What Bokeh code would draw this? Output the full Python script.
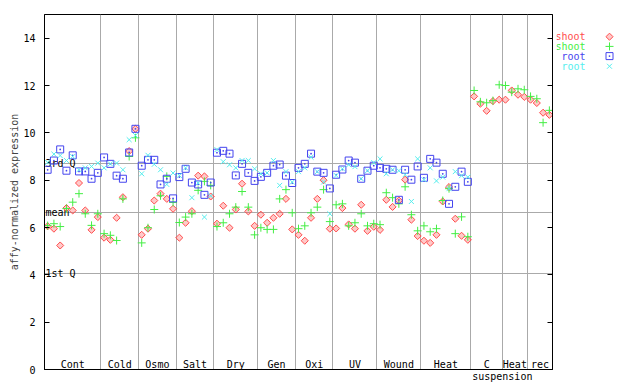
import math
from bokeh.plotting import figure
from bokeh.models import LinearAxis, FixedTicker, Range1d
from bokeh.layouts import row
from bokeh.core.properties import value
from bokeh.embed import file_html
from bokeh.resources import INLINE

# ---------------- data ----------------
group_labels = ["Cont", "Cold", "Osmo", "Salt", "Dry", "Gen", "Oxi", "UV",
                "Wound", "Heat", "C", "Heat", "rec"]
group_sizes = [9, 6, 6, 6, 7, 6, 6, 7, 7, 8, 5, 4, 4]
extra_label = "suspension"

shoot_rep1 = [6.05, 5.95, 5.24, 6.82, 6.72, 7.88, 6.72, 5.90, 6.44,
              5.57, 5.48, 6.41, 7.28, 9.23, 10.17,
              5.69, 5.95, 7.14, 7.43, 7.21, 6.79,
              5.57, 6.20, 6.69, 8.19, 8.16, 7.31,
              6.16, 6.92, 5.99, 6.76, 7.85, 6.68, 6.07,
              6.54, 6.20, 6.41, 6.58, 7.21, 5.92,
              5.69, 5.44, 6.41, 7.21, 8.00, 5.95,
              5.96, 6.82, 6.13, 5.95, 6.96, 5.86, 6.03,
              5.90, 7.17, 6.87, 7.14, 8.02, 6.33, 5.64,
              5.44, 5.35, 5.69, 7.10, 7.71, 6.37, 5.65, 5.48,
              11.54, 11.23, 10.93, 11.34, 11.40,
              11.40, 11.79, 11.61, 11.52,
              11.40, 11.26, 10.85, 10.76]
shoot_rep2 = [6.08, 6.16, 6.04, 6.80, 7.07, 7.43, 6.58, 6.09, 6.58,
              5.74, 5.67, 5.45, 7.21, 9.00, 9.79,
              5.35, 5.99, 6.76, 7.34, 8.16, 7.06,
              6.21, 6.44, 6.58, 7.57, 7.95, 7.78,
              6.04, 6.20, 6.58, 6.86, 7.52, 6.86, 5.69,
              5.99, 5.92, 5.92, 7.21, 7.60, 6.62,
              5.95, 6.07, 6.62, 6.86, 7.60, 6.25,
              6.96, 7.00, 6.07, 6.20, 6.58, 6.07, 6.16,
              6.12, 7.47, 7.26, 7.00, 7.72, 6.54, 5.86,
              6.07, 5.82, 5.95, 7.14, 7.64, 5.74, 6.45, 5.61,
              11.79, 11.31, 11.27, 11.36, 12.03,
              12.00, 11.72, 11.86, 11.82,
              11.54, 11.44, 10.43, 10.95]
root_rep1 = [8.44, 8.83, 9.30, 8.40, 9.05, 8.37, 8.37, 8.06, 8.31,
             8.96, 8.69, 8.19, 8.06, 9.17, 10.17,
             8.61, 8.86, 8.86, 7.82, 8.06, 7.23,
             8.13, 8.48, 7.90, 7.82, 7.38, 7.90,
             9.16, 9.24, 9.12, 8.20, 8.69, 8.31, 7.97,
             8.14, 8.31, 8.61, 8.66, 8.19, 7.88,
             8.52, 8.69, 9.12, 8.36, 8.31, 7.65,
             8.23, 8.45, 8.83, 8.74, 8.06, 8.40, 8.61,
             8.52, 8.48, 8.44, 7.17, 8.44, 8.02, 8.58,
             8.10, 8.90, 8.74, 8.27, 7.00, 7.72, 8.36, 7.93]
root_rep2 = [8.75, 9.10, 9.04, 8.83, 9.00, 8.44, 8.52, 8.58, 8.72,
             8.52, 8.69, 8.72, 8.44, 9.71, 9.89,
             8.27, 9.05, 8.67, 8.44, 7.82, 8.30,
             8.20, 8.52, 7.26, 7.88, 6.44, 7.34,
             9.29, 8.78, 8.65, 8.52, 8.83, 8.83, 8.48,
             8.27, 8.31, 8.83, 7.78, 8.36, 7.92,
             8.36, 8.52, 8.97, 8.36, 7.92, 6.58,
             8.20, 8.48, 8.65, 8.57, 8.06, 8.40, 8.74,
             8.90, 8.27, 8.44, 8.40, 8.23, 7.10, 8.90,
             8.02, 8.52, 7.97, 8.13, 7.64, 8.36, 8.19, 8.13]

summary_values = [8.69, 6.64, 4.07]
summary_labels = ["3rd Q", "mean", "1st Q"]
y_ticks = [0, 2, 4, 6, 8, 10, 12, 14]
legend_labels = ["shoot", "shoot", "root", "root"]

# ---------------- derived ----------------
n_slots = sum(group_sizes)
bounds = [0]
for s in group_sizes:
    bounds.append(bounds[-1] + s)
centers = [(bounds[i] + bounds[i + 1]) / 2 for i in range(len(group_sizes))]
x_shoot = [i + 0.5 for i in range(len(shoot_rep1))]
x_root = [i + 0.5 for i in range(len(root_rep1))]
susp_tick = bounds[11]

RED, GREEN, BLUE, CYAN = "#ff4c4c", "#44ee44", "#4444ee", "#55eeee"
FONT = value("DejaVu Sans Mono")
FS = "10px"

p = figure(width=556, height=384, x_range=Range1d(0, n_slots), y_range=Range1d(0, 15),
           output_backend="svg", toolbar_location=None,
           min_border_left=44, min_border_right=4, min_border_top=14, min_border_bottom=15)
p.background_fill_color = "white"
p.border_fill_color = "white"
p.outline_line_color = "black"

# grids
p.xgrid.ticker = FixedTicker(ticks=bounds[1:-1])
p.xgrid.grid_line_color = "#aaaaaa"
p.ygrid.ticker = FixedTicker(ticks=summary_values)
p.ygrid.grid_line_color = "#aaaaaa"

# x axis: only the "suspension" label
xa = p.xaxis[0]
xa.ticker = FixedTicker(ticks=[susp_tick])
xa.major_label_overrides = {susp_tick: extra_label}
xa.major_tick_in = 0
xa.major_tick_out = 0
xa.minor_tick_in = 0
xa.minor_tick_out = 0
xa.major_label_standoff = 1
xa.major_label_text_font = "DejaVu Sans Mono"
xa.major_label_text_font_size = FS
xa.major_label_text_color = "black"
xa.axis_line_color = "black"

# y axis
ya = p.yaxis[0]
ya.ticker = FixedTicker(ticks=y_ticks)
ya.major_tick_in = 5
ya.major_tick_out = 0
ya.minor_tick_in = 0
ya.minor_tick_out = 0
ya.major_label_standoff = 9
ya.major_label_text_font = "DejaVu Sans Mono"
ya.major_label_text_font_size = FS
ya.major_label_text_color = "black"
ya.axis_label = "affy-normalized expression"
ya.axis_label_text_font = "DejaVu Sans Mono"
ya.axis_label_text_font_size = FS
ya.axis_label_text_font_style = "normal"
ya.axis_label_standoff = 0
ya.axis_line_color = "black"

ra = LinearAxis(ticker=FixedTicker(ticks=y_ticks))
ra.major_tick_in = 5
ra.major_tick_out = 0
ra.minor_tick_in = 0
ra.minor_tick_out = 0
ra.major_label_overrides = {t: "" for t in y_ticks}
ra.major_label_standoff = 0
p.add_layout(ra, "right")

# summary labels and group labels
p.text(x=[0] * len(summary_values), y=summary_values, text=summary_labels,
       x_offset=1, text_baseline="alphabetic", text_align="left",
       text_font=FONT, text_font_size=FS, text_color="black")
p.text(x=centers, y=[0] * len(centers), text=group_labels,
       text_baseline="bottom", text_align="center",
       text_font=FONT, text_font_size=FS, text_color="black")

# data
r_red = p.scatter(x_shoot, shoot_rep1, marker="square", size=5, angle=math.pi / 4,
                  line_color=RED, fill_color=RED, fill_alpha=0.3)
r_green = p.scatter(x_shoot, shoot_rep2, marker="cross", size=8, line_color=GREEN)
r_blue = p.scatter(x_root, root_rep1, marker="square_dot", size=7,
                   line_color=BLUE, fill_color=None)
r_cyan = p.scatter(x_root, root_rep2, marker="x", size=7, line_color=CYAN)

# ---------------- legend panel (text left of marker) ----------------
lg = figure(width=84, height=384, x_range=Range1d(0, 84), y_range=Range1d(0, 384),
            output_backend="svg", toolbar_location=None,
            x_axis_type=None, y_axis_type=None,
            min_border_left=0, min_border_right=0, min_border_top=0, min_border_bottom=0)
lg.grid.visible = False
lg.outline_line_color = None
lg.background_fill_color = "white"
lg.border_fill_color = "white"
row_y = [360, 349.5, 339, 328]
text_x = [29] * 4
mark_x = [53] * 4
colors = [RED, GREEN, BLUE, CYAN]
lg.text(x=text_x, y=row_y, text=legend_labels, text_color=colors,
        text_align="right", text_baseline="middle", text_font=FONT, text_font_size=FS)
lg.scatter(mark_x[0:1], row_y[0:1], marker="square", size=5, angle=math.pi / 4,
           line_color=RED, fill_color=RED, fill_alpha=0.3)
lg.scatter(mark_x[1:2], row_y[1:2], marker="cross", size=8, line_color=GREEN)
lg.scatter(mark_x[2:3], row_y[2:3], marker="square_dot", size=7,
           line_color=BLUE, fill_color=None)
lg.scatter(mark_x[3:4], row_y[3:4], marker="x", size=7, line_color=CYAN)

layout = row(p, lg, spacing=0)
open("out.html", "w").write(file_html(layout, INLINE))
